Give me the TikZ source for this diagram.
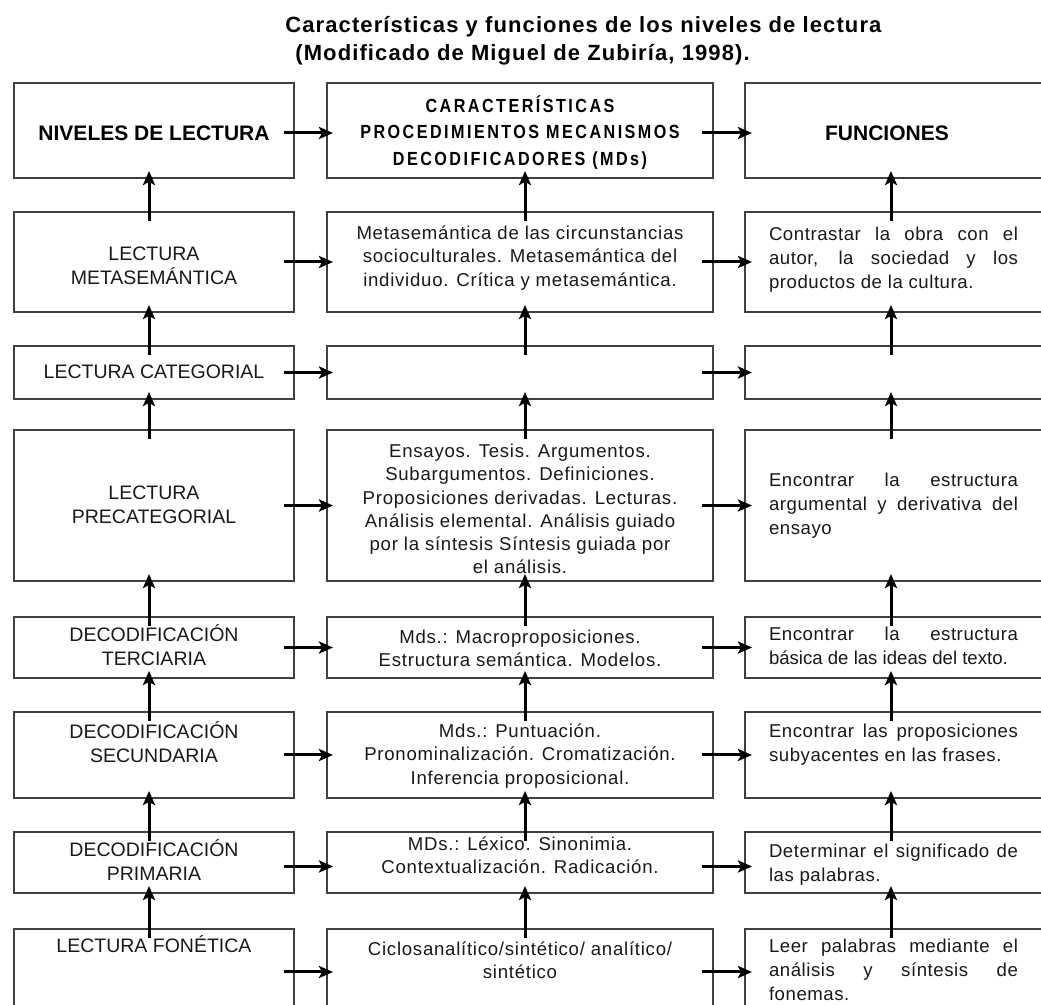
\documentclass[tikz,border=0pt]{standalone}
\usepackage{fontspec}
\setmainfont{Liberation Sans}
\newfontfamily\ttlfont[LetterSpace=5]{Liberation Sans}
\newfontfamily\hdrfont[FakeStretch=0.85,LetterSpace=13]{Liberation Sans}
\newfontfamily\mdsfont[LetterSpace=4]{Liberation Sans}
\newfontfamily\funfont[LetterSpace=3]{Liberation Sans}
\usetikzlibrary{arrows.meta}

\begin{document}
\begin{tikzpicture}[x=0.5pt,y=-0.5pt,
	box/.style={draw=black!75, line width=1pt, inner sep=0pt},
	lvlbox/.style={box, minimum width=140pt},
	mdsbox/.style={box, minimum width=193pt},
	funbox/.style={box, minimum width=162.5pt},
	lvltxt/.style={align=center, inner sep=0pt, text=black!90, font=\fontsize{9.75pt}{12pt}\selectfont},
	mdstxt/.style={align=center, inner sep=0pt, text=black!90, font=\mdsfont\fontsize{9.3pt}{11.6pt}\selectfont},
	funtxt/.style={align=justify, inner sep=0pt, text width=124.5pt, text=black!90, font=\funfont\fontsize{9.3pt}{12pt}\selectfont},
	hdr/.style={inner sep=0pt, font=\bfseries\fontsize{10.5pt}{13pt}\selectfont},
	ttl/.style={inner sep=0pt, font=\ttlfont\bfseries\fontsize{11pt}{13pt}\selectfont},
	arr/.style={-{Stealth[length=7pt,width=6pt,inset=1.5pt]}, line width=1.5pt}]
	\useasboundingbox[fill=white] (0,0) rectangle (1041,1005);

	% title
	\node[ttl, anchor=base west] (ttl1) at (285,33) {Características y funciones de los niveles de lectura};
	\node[ttl, anchor=base west] (ttl2) at (295,61) {(Modificado de Miguel de Zubiría, 1998).};

	% boxes, three columns
	\draw (154,130.5) node[lvlbox, minimum height=47.5pt] (n1) {}
	(154,262) node[lvlbox, minimum height=50pt] (n2) {}
	(154,372.5) node[lvlbox, minimum height=26.5pt] (n3) {}
	(154,505.5) node[lvlbox, minimum height=75.5pt] (n4) {}
	(154,647.5) node[lvlbox, minimum height=30.5pt] (n5) {}
	(154,755) node[lvlbox, minimum height=43pt] (n6) {}
	(154,862.5) node[lvlbox, minimum height=30.5pt] (n7) {}
	(154,972) node[lvlbox, minimum height=43pt] (n8) {};
	\draw (520,130.5) node[mdsbox, minimum height=47.5pt] (p1) {}
	(520,262) node[mdsbox, minimum height=50pt] (p2) {}
	(520,372.5) node[mdsbox, minimum height=26.5pt] (p3) {}
	(520,505.5) node[mdsbox, minimum height=75.5pt] (p4) {}
	(520,647.5) node[mdsbox, minimum height=30.5pt] (p5) {}
	(520,755) node[mdsbox, minimum height=43pt] (p6) {}
	(520,862.5) node[mdsbox, minimum height=30.5pt] (p7) {}
	(520,972) node[mdsbox, minimum height=43pt] (p8) {};
	\draw (907.5,130.5) node[funbox, minimum height=47.5pt] (f1) {}
	(907.5,262) node[funbox, minimum height=50pt] (f2) {}
	(907.5,372.5) node[funbox, minimum height=26.5pt] (f3) {}
	(907.5,505.5) node[funbox, minimum height=75.5pt] (f4) {}
	(907.5,647.5) node[funbox, minimum height=30.5pt] (f5) {}
	(907.5,755) node[funbox, minimum height=43pt] (f6) {}
	(907.5,862.5) node[funbox, minimum height=30.5pt] (f7) {}
	(907.5,972) node[funbox, minimum height=43pt] (f8) {};

	% texts
	\node[hdr] (tn1) at (154,133) {NIVELES DE LECTURA};
	\node[lvltxt] (tn2) at (154,265.5) {LECTURA\\METASEMÁNTICA};
	\node[lvltxt] (tn3) at (154,372) {LECTURA CATEGORIAL};
	\node[lvltxt] (tn4) at (154,504.5) {LECTURA\\PRECATEGORIAL};
	\node[lvltxt] (tn5) at (154,645.5) {DECODIFICACIÓN\\TERCIARIA};
	\node[lvltxt] (tn6) at (154,742) {DECODIFICACIÓN\\SECUNDARIA};
	\node[lvltxt] (tn7) at (154,860) {DECODIFICACIÓN\\PRIMARIA};
	\node[lvltxt] (tn8) at (154,944) {LECTURA FONÉTICA};

	\node[align=center, inner sep=0pt, font=\hdrfont\bfseries\fontsize{9.5pt}{13.3pt}\selectfont] (tp1) at (520,132.5)
		{CARACTERÍSTICAS\\PROCEDIMIENTOS MECANISMOS\\DECODIFICADORES (MDs)};
	\node[mdstxt] (tp2) at (520,258) {Metasemántica de las circunstancias\\socioculturales. Metasemántica del\\individuo. Crítica y metasemántica.};
	\node[mdstxt] (tp4) at (520,509) {Ensayos. Tesis. Argumentos.\\Subargumentos. Definiciones.\\Proposiciones derivadas. Lecturas.\\Análisis elemental. Análisis guiado\\por la síntesis Síntesis guiada por\\el análisis.};
	\node[mdstxt] (tp5) at (520,648) {Mds.: Macroproposiciones.\\Estructura semántica. Modelos.};
	\node[mdstxt] (tp6) at (520,756) {Mds.: Puntuación.\\Pronominalización. Cromatización.\\Inferencia proposicional.};
	\node[mdstxt] (tp7) at (520,855) {MDs.: Léxico. Sinonimia.\\Contextualización. Radicación.};
	\node[mdstxt] (tp8) at (520,960) {Ciclosanalítico/sintético/ analítico/\\sintético};

	\node[hdr] (tf1) at (887,133) {FUNCIONES};
	\node[funtxt] (tf2) at (893.5,260) {Contrastar la obra con el\linebreak autor, la sociedad y los\linebreak productos de la cultura.};
	\node[funtxt] (tf4) at (893.5,506) {Encontrar la estructura\linebreak argumental y derivativa del\linebreak ensayo};
	\node[funtxt] (tf5) at (893.5,646) {Encontrar la estructura\linebreak {\addfontfeature{LetterSpace=0}básica de las ideas del texto.}};
	\node[funtxt] (tf6) at (893.5,744.5) {Encontrar las proposiciones\linebreak subyacentes en las frases.};
	\node[funtxt] (tf7) at (893.5,865) {Determinar el significado de\linebreak las palabras.};
	\node[funtxt] (tf8) at (893.5,970) {Leer palabras mediante el\linebreak análisis y síntesis de\linebreak fonemas.};

	% arrows up
	\draw[arr] ([shift={(-5,10)}]n2.north) -- ([shift={(-5,-8)}]n1.south);
	\draw[arr] ([shift={(-5,10)}]n3.north) -- ([shift={(-5,-8)}]n2.south);
	\draw[arr] ([shift={(-5,10)}]n4.north) -- ([shift={(-5,-8)}]n3.south);
	\draw[arr] ([shift={(-5,10)}]n5.north) -- ([shift={(-5,-8)}]n4.south);
	\draw[arr] ([shift={(-5,10)}]n6.north) -- ([shift={(-5,-8)}]n5.south);
	\draw[arr] ([shift={(-5,10)}]n7.north) -- ([shift={(-5,-8)}]n6.south);
	\draw[arr] ([shift={(-5,10)}]n8.north) -- ([shift={(-5,-8)}]n7.south);
	\draw[arr] ([shift={(5,10)}]p2.north) -- ([shift={(5,-8)}]p1.south);
	\draw[arr] ([shift={(5,10)}]p3.north) -- ([shift={(5,-8)}]p2.south);
	\draw[arr] ([shift={(5,10)}]p4.north) -- ([shift={(5,-8)}]p3.south);
	\draw[arr] ([shift={(5,10)}]p5.north) -- ([shift={(5,-8)}]p4.south);
	\draw[arr] ([shift={(5,10)}]p6.north) -- ([shift={(5,-8)}]p5.south);
	\draw[arr] ([shift={(5,10)}]p7.north) -- ([shift={(5,-8)}]p6.south);
	\draw[arr] ([shift={(5,10)}]p8.north) -- ([shift={(5,-8)}]p7.south);
	\draw[arr] ([shift={(-16.5,10)}]f2.north) -- ([shift={(-16.5,-8)}]f1.south);
	\draw[arr] ([shift={(-16.5,10)}]f3.north) -- ([shift={(-16.5,-8)}]f2.south);
	\draw[arr] ([shift={(-16.5,10)}]f4.north) -- ([shift={(-16.5,-8)}]f3.south);
	\draw[arr] ([shift={(-16.5,10)}]f5.north) -- ([shift={(-16.5,-8)}]f4.south);
	\draw[arr] ([shift={(-16.5,10)}]f6.north) -- ([shift={(-16.5,-8)}]f5.south);
	\draw[arr] ([shift={(-16.5,10)}]f7.north) -- ([shift={(-16.5,-8)}]f6.south);
	\draw[arr] ([shift={(-16.5,10)}]f8.north) -- ([shift={(-16.5,-8)}]f7.south);

	% arrows across
	\draw[arr] ([shift={(-11,2.5)}]n1.east) -- ([shift={(7,2.5)}]p1.west);
	\draw[arr] ([shift={(-12,2.5)}]p1.east) -- ([shift={(8,2.5)}]f1.west);
	\draw[arr] ([xshift=-5.5pt]n2.east) -- ([xshift=3.5pt]p2.west);
	\draw[arr] ([xshift=-6pt]p2.east) -- ([xshift=4pt]f2.west);
	\draw[arr] ([xshift=-5.5pt]n3.east) -- ([xshift=3.5pt]p3.west);
	\draw[arr] ([xshift=-6pt]p3.east) -- ([xshift=4pt]f3.west);
	\draw[arr] ([xshift=-5.5pt]n4.east) -- ([xshift=3.5pt]p4.west);
	\draw[arr] ([xshift=-6pt]p4.east) -- ([xshift=4pt]f4.west);
	\draw[arr] ([xshift=-5.5pt]n5.east) -- ([xshift=3.5pt]p5.west);
	\draw[arr] ([xshift=-6pt]p5.east) -- ([xshift=4pt]f5.west);
	\draw[arr] ([xshift=-5.5pt]n6.east) -- ([xshift=3.5pt]p6.west);
	\draw[arr] ([xshift=-6pt]p6.east) -- ([xshift=4pt]f6.west);
	\draw[arr] ([shift={(-11,4)}]n7.east) -- ([shift={(7,4)}]p7.west);
	\draw[arr] ([shift={(-12,4)}]p7.east) -- ([shift={(8,4)}]f7.west);
	\draw[arr] ([xshift=-5.5pt]n8.east) -- ([xshift=3.5pt]p8.west);
	\draw[arr] ([xshift=-6pt]p8.east) -- ([xshift=4pt]f8.west);
\end{tikzpicture}
\end{document}
